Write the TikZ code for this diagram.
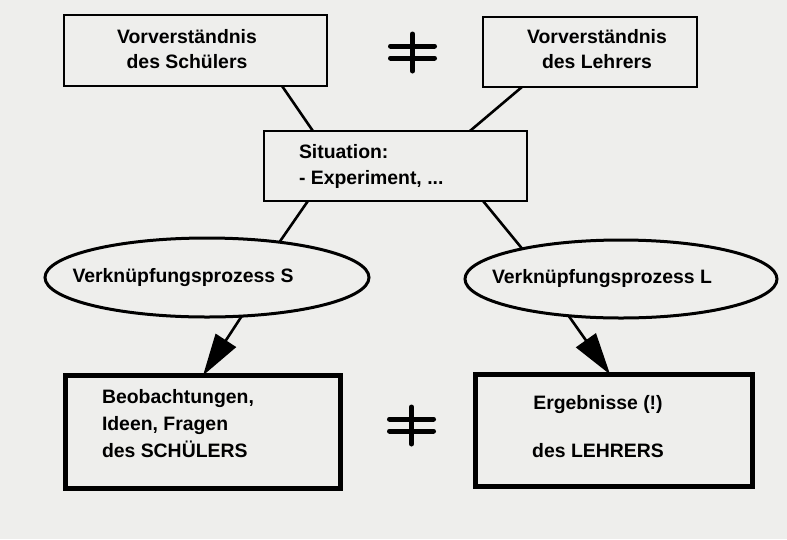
\documentclass[tikz,border=0pt]{standalone}
\usepackage{fontspec}
\setmainfont{Liberation Sans}
\usetikzlibrary{arrows.meta,shapes.geometric,calc}
\definecolor{paper}{RGB}{238,238,236}
\tikzset{
  txt/.style={font=\fontsize{19.4}{25}\selectfont\bfseries, inner sep=0pt, outer sep=0pt},
  thinbox/.style={draw, line width=2pt, inner sep=0pt, outer sep=0pt, rectangle},
  thickbox/.style={draw, line width=5pt, inner sep=0pt, outer sep=0pt, rectangle},
  oval/.style={draw, ellipse, line width=3pt, inner sep=0pt, outer sep=0pt},
  link/.style={line width=2.6pt},
  bigarrow/.style={line width=2.6pt, -{Triangle[length=42pt,width=24pt]}},
  noteq/.pic={
    \draw[line width=5pt, line cap=round] (-22,-6) -- (22,-6) (-22,6) -- (22,6) (0,-18) -- (0,19);
  }
}
\begin{document}
\begin{tikzpicture}[x=1pt,y=-1pt]
\useasboundingbox (0,0) rectangle (787,539);
\fill[paper] (0,0) rectangle (787,539);

% boxes
\node[thinbox, minimum width=263pt, minimum height=71pt] (s1) at (195.5,50.5) {};
\node[thinbox, minimum width=214pt, minimum height=70pt] (s2) at (590,52) {};
\node[thinbox, minimum width=263pt, minimum height=70pt] (sit) at (395.5,166) {};
\node[oval, minimum width=324pt, minimum height=79pt] (eS) at (207,277.5) {};
\node[oval, minimum width=312pt, minimum height=78pt] (eL) at (621,279) {};
\node[thickbox, minimum width=275pt, minimum height=113pt] (bS) at (203,432) {};
\node[thickbox, minimum width=277pt, minimum height=112pt] (bL) at (614,430.5) {};

% texts (base anchor = baseline of the last line)
\node[txt, anchor=base, align=center] (t1) at (187,68) {Vorverständnis\\des Schülers};
\node[txt, anchor=base, align=center] (t2) at (597,68) {Vorverständnis\\des Lehrers};
\node[txt, anchor=base west, align=left, font=\fontsize{19.4}{26}\selectfont\bfseries] (t3) at (299,184) {Situation:\\- Experiment, ...};
\node[txt, anchor=base] (t4) at (183,282) {Verknüpfungsprozess S};
\node[txt, anchor=base] (t5) at (602,283) {Verknüpfungsprozess L};
\node[txt, anchor=base west, align=left, font=\fontsize{19.4}{27}\selectfont\bfseries] (t6) at (102,457) {Beobachtungen,\\Ideen, Fragen\\des SCHÜLERS};
\node[txt, anchor=base, align=center, font=\fontsize{19.4}{48}\selectfont\bfseries] (t7) at (598,457) {Ergebnisse (!)\\des LEHRERS};

% connectors
\draw[link] ($(s1.south west)!0.829!(s1.south east)$) -- ($(sit.north west)!0.186!(sit.north east)$);
\draw[link] ($(s2.south west)!0.182!(s2.south east)$) -- ($(sit.north west)!0.783!(sit.north east)$);
\draw[link] ($(sit.south west)!0.167!(sit.south east)$) -- (eS.26);
\draw[link] ($(sit.south west)!0.833!(sit.south east)$) -- (eL.163);
\draw[bigarrow] (eS.-48) -- ($(bS.north west)!0.5!(bS.north east)$);
\draw[bigarrow] (eL.-145) -- ($(bL.north west)!0.486!(bL.north east)$);

% not-equal signs
\coordinate (ne1) at (412.5,52);
\coordinate (ne2) at (411.5,425);
\pic at (ne1) {noteq};
\pic at (ne2) {noteq};
\end{tikzpicture}
\end{document}
